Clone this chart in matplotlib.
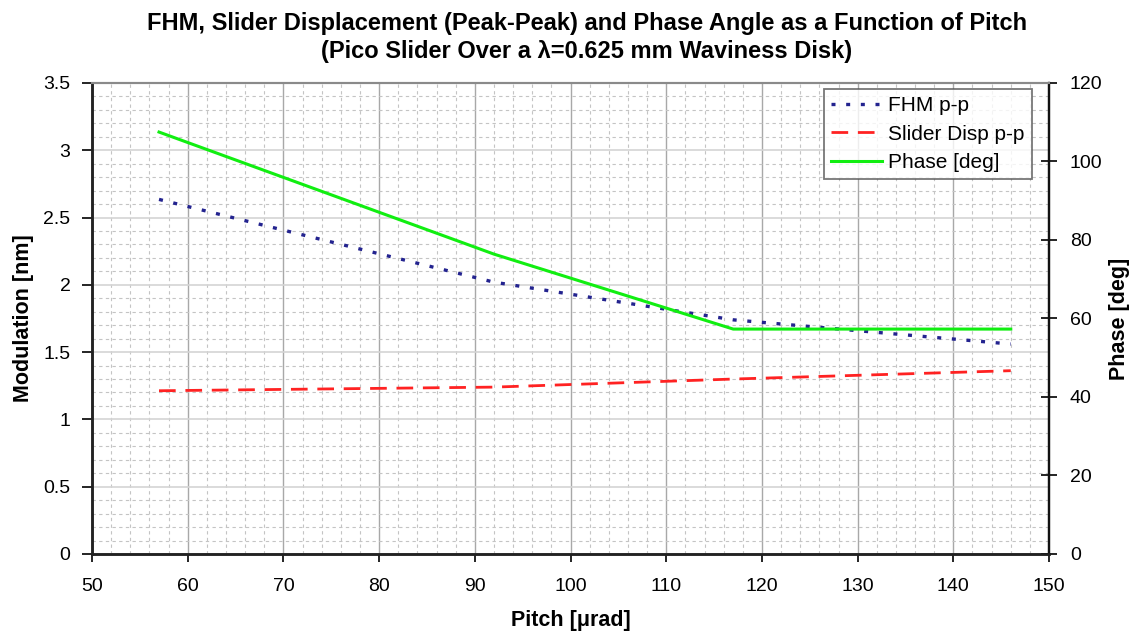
import matplotlib
matplotlib.use("Agg")
import matplotlib.pyplot as plt
from matplotlib.ticker import MultipleLocator

plt.rcParams['font.family'] = ['Liberation Sans', 'DejaVu Sans']

# Pitch [µrad] sample points
pitch = [57, 92, 117, 146]
# Peak-to-peak modulation [nm]
fhm_pp = [2.635, 2.02, 1.74, 1.56]
slider_pp = [1.213, 1.24, 1.30, 1.362]
# Phase angle [deg]
phase_deg = [107.5, 76.4, 57.3, 57.3]

x_ticks = list(range(50, 151, 10))
left_ticks = [0, 0.5, 1, 1.5, 2, 2.5, 3, 3.5]
left_tick_labels = ['0', '0.5', '1', '1.5', '2', '2.5', '3', '3.5']
right_ticks = [0, 20, 40, 60, 80, 100, 120]

fig = plt.figure(figsize=(11.46, 6.35), dpi=100)
ax = fig.add_axes([0.0803, 0.1276, 0.8351, 0.7417])
ax2 = ax.twinx()

ax.set_xlim(50, 150)
ax.set_ylim(0, 3.5)
ax2.set_ylim(0, 120)

ax.set_xticks(x_ticks)
ax.set_yticks(left_ticks)
ax.set_yticklabels(left_tick_labels)
ax2.set_yticks(right_ticks)
ax.xaxis.set_minor_locator(MultipleLocator(2))
ax.yaxis.set_minor_locator(MultipleLocator(0.1))

# grid: solid majors, fine dashed minors
ax.grid(which='minor', axis='both', color='#c4c4c4', linestyle=(0, (3, 3)), linewidth=0.8)
ax.grid(which='major', axis='y', color='#d4d4d4', linestyle='-', linewidth=1.2)
ax.grid(which='major', axis='x', color='#a8a8a8', linestyle='-', linewidth=1.0)
ax.set_axisbelow(True)

l1, = ax.plot(pitch, fhm_pp, color='#23238f', linestyle=(0, (1.2, 3.2)), linewidth=2.4,
              label='FHM p-p', dash_capstyle='butt')
l2, = ax.plot(pitch, slider_pp, color='#ff2222', linestyle=(0, (6, 3.5)), linewidth=2.0,
              label='Slider Disp p-p')
l3, = ax2.plot(pitch, phase_deg, color='#11ee11', linestyle='-', linewidth=2.2,
               label='Phase [deg]')

for a in (ax, ax2):
    a.spines['top'].set_color('#8a8a8a')
    a.spines['top'].set_linewidth(1.5)
    a.spines['left'].set_color('#222222')
    a.spines['left'].set_linewidth(1.8)
    a.spines['bottom'].set_color('#222222')
    a.spines['bottom'].set_linewidth(1.8)
    a.spines['right'].set_color('#111111')
    a.spines['right'].set_linewidth(1.6)

ax.tick_params(axis='x', which='major', direction='out', length=6, width=1.2,
               labelsize=14, pad=11)
ax.tick_params(axis='y', which='major', direction='out', length=7, width=1.2,
               labelsize=14, pad=8.5)
ax.tick_params(which='minor', length=0)
ax2.tick_params(axis='y', which='major', direction='inout', length=12, width=1.2,
                labelsize=14, pad=9)

ax.set_xlabel('Pitch [\u03bcrad]', fontsize=15.5, fontweight='bold', va='center')
ax.xaxis.set_label_coords(0.5, -0.142)
ax.set_ylabel('Modulation [nm]', fontsize=15.5, fontweight='bold', va='center')
ax.yaxis.set_label_coords(-0.072, 0.5)
ax2.set_ylabel('Phase [deg]', fontsize=15.5, fontweight='bold', va='center')
ax2.yaxis.set_label_coords(1.074, 0.5)

fig.text(0.512, 0.9528, 'FHM, Slider Displacement (Peak-Peak) and Phase Angle as a Function of Pitch',
         ha='center', va='baseline', fontsize=17, fontweight='bold')
fig.text(0.512, 0.9087, '(Pico Slider Over a \u03bb=0.625 mm Waviness Disk)',
         ha='center', va='baseline', fontsize=17, fontweight='bold')

leg = ax2.legend(handles=[l1, l2, l3], loc='upper right', bbox_to_anchor=(0.9823, 0.987),
                 fontsize=15, frameon=True, fancybox=False, handlelength=2.45,
                 borderpad=0.35, labelspacing=0.45, handletextpad=0.3, borderaxespad=0)
leg.get_frame().set_edgecolor('#555555')
leg.get_frame().set_linewidth(1.3)

fig.savefig('out.png', dpi=100, facecolor='white')
